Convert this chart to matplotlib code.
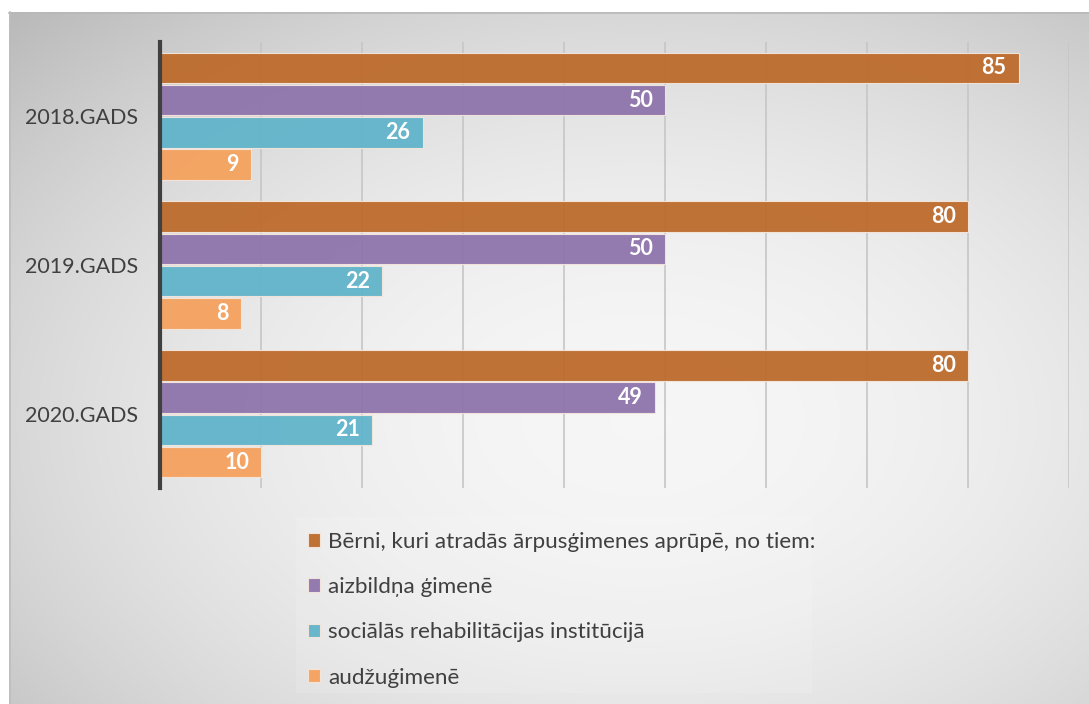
import numpy as np
import matplotlib
matplotlib.use("Agg")
import matplotlib.pyplot as plt
from matplotlib.patches import Rectangle

plt.rcParams['font.family'] = ['Lato', 'DejaVu Sans']

years = ["2018.GADS", "2019.GADS", "2020.GADS"]
series_names = [
    "Bērni, kuri atradās ārpusģimenes aprūpē, no tiem:",
    "aizbildņa ģimenē",
    "sociālās rehabilitācijas institūcijā",
    "audžuģimenē",
]
total = [85, 80, 80]
guardian = [50, 50, 49]
institution = [26, 22, 21]
foster = [9, 8, 10]
series_values = [total, guardian, institution, foster]
colors = ["#BD6B2C", "#8E74AC", "#61B4CA", "#F5A25E"]

W, H = 1089, 704
fig = plt.figure(figsize=(W / 100, H / 100), dpi=100)

# background gradient panel
bg = fig.add_axes([0, 0, 1, 1], zorder=-10)
bg.set_xlim(0, W); bg.set_ylim(H, 0); bg.axis('off')
yy, xx = np.mgrid[0:H, 0:W]
cx, cy = 640, 420
r = np.sqrt(((xx - cx) / W) ** 2 + ((yy - cy) / H) ** 2)
val = np.clip(0.965 - 0.36 * r ** 2, 0.7, 1)
img = np.dstack([val, val, val])
img[:12, :, :] = 1.0
img[:, :9, :] = 1.0
bg.imshow(img, extent=(0, W, H, 0), interpolation='bilinear', aspect='auto')
bg.plot([9, W], [12.5, 12.5], color="#b8b8b8", lw=1.2)
bg.plot([9.5, 9.5], [12, H], color="#bdbdbd", lw=1.2)
# legend panel
bg.add_patch(Rectangle((296, 517), 516, 176, facecolor='white', alpha=0.12, edgecolor='none'))

ax = fig.add_axes([160 / W, 1 - 488 / H, 909 / W, 446 / H])
ax.set_facecolor('none')
ax.set_xlim(0, 90)
ax.set_ylim(2.5, -0.5)

n = len(series_values)
step = 0.217
hgt = 0.205
y = np.arange(len(years))
for i, (vals, c, name) in enumerate(zip(series_values, colors, series_names)):
    off = (i - (n - 1) / 2) * step
    bars = ax.barh(y + off, vals, height=hgt, color=c, alpha=0.95, edgecolor='#f4e6dc',
                   linewidth=0.8, label=name, zorder=3)
    for b, v in zip(bars, vals):
        ax.annotate(str(v), (b.get_width(), b.get_y() + b.get_height() / 2),
                    xytext=(-12, 0), textcoords='offset pixels', ha='right', va='center',
                    color='white', fontsize=15.5, fontweight='bold', zorder=5)

ax.set_xticks(np.arange(0, 91, 10))
ax.grid(axis='x', color='#c6c6c6', lw=1.2, zorder=0)
ax.set_axisbelow(True)
ax.tick_params(axis='x', length=0, labelbottom=False)
ax.set_yticks(y)
ax.set_yticklabels(years, fontsize=15.5, color='#404040')
ax.tick_params(axis='y', length=0, pad=16)
for s in ['top', 'right', 'bottom']:
    ax.spines[s].set_visible(False)
ax.spines['left'].set_color('#404040')
ax.spines['left'].set_linewidth(3)
ax.spines['left'].set_zorder(6)

handles, labels = ax.get_legend_handles_labels()
leg = fig.legend(handles, labels, loc='upper left',
                 bbox_to_anchor=(290 / W, 1 - 514 / H), frameon=False,
                 fontsize=16.2, handlelength=0.55, handleheight=0.55,
                 handletextpad=0.35, labelspacing=1.12, borderpad=0.3,
                 labelcolor='#404040')

fig.savefig("out.png", dpi=100)
